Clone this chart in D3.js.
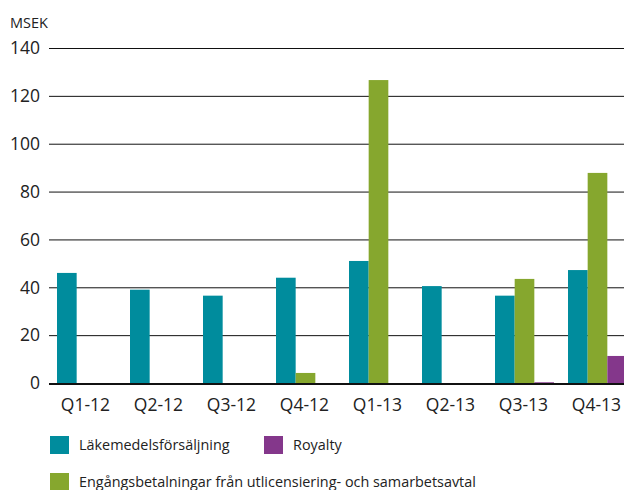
<!DOCTYPE html>
<html>
<head>
<meta charset="utf-8">
<script src="https://cdn.jsdelivr.net/npm/d3@7"></script>
<style>
	body { margin: 0; background: #fff; }
	text { font-family: "Open Sans", "Noto Sans", sans-serif; fill: #222; }
</style>
</head>
<body>
<svg id="chart" width="624" height="490"></svg>
<script>
var quarters = ["Q1-12", "Q2-12", "Q3-12", "Q4-12", "Q1-13", "Q2-13", "Q3-13", "Q4-13"];
var lakemedel = [46, 39, 36.5, 44, 51, 40.5, 36.5, 47.2];
var engangs = [0, 0, 0, 4.2, 126.6, 0, 43.5, 87.8];
var royalty = [0, 0, 0, 0, 0, 0, 0.3, 11.3];
var yTicks = [0, 20, 40, 60, 80, 100, 120, 140];

var seriesNames = ["Läkemedelsförsäljning", "Engångsbetalningar från utlicensiering- och samarbetsavtal", "Royalty"];
var colors = ["#008c9d", "#86a72e", "#84378b"];

var svg = d3.select("#chart");

var x = d3.scaleBand()
	.domain(quarters)
	.range([49, 633]);

// three bars per quarter, leaving a gap between groups
var xSub = d3.scaleBand()
	.domain([0, 1, 2])
	.range([8, 8 + 59]);

var y = d3.scaleLinear()
	.domain([0, 140])
	.range([383, 48]);

// gridlines
svg.append("g")
	.selectAll("line")
	.data(yTicks.filter(function(d) { return d > 0 }))
	.enter()
	.append("line")
	.attr("x1", 49)
	.attr("x2", 624)
	.attr("y1", function(d) { return y(d) + 0.5 })
	.attr("y2", function(d) { return y(d) + 0.5 })
	.attr("stroke", "#111")
	.attr("stroke-width", 1);

// y labels
svg.append("g")
	.selectAll("text")
	.data(yTicks)
	.enter()
	.append("text")
	.attr("x", 40)
	.attr("y", function(d) { return y(d) })
	.attr("dy", "0.36em")
	.attr("text-anchor", "end")
	.style("font-size", "17.5px")
	.text(function(d) { return d });

svg.append("text")
	.attr("x", 10)
	.attr("y", 28)
	.style("font-size", "14.5px")
	.text("MSEK");

// bars
var rows = quarters.map(function(q, i) {
	return { key: q, values: [lakemedel[i], engangs[i], royalty[i]] };
});

var groups = svg.append("g")
	.selectAll("g")
	.data(rows)
	.enter()
	.append("g")
	.attr("transform", function(d) { return "translate(" + x(d.key) + ",0)" });

groups.selectAll("rect")
	.data(function(d) { return d.values })
	.enter()
	.append("rect")
	.attr("x", function(d, i) { return xSub(i) })
	.attr("width", xSub.bandwidth())
	.attr("y", function(d) { return y(d) })
	.attr("height", function(d) { return y(0) - y(d) })
	.attr("fill", function(d, i) { return colors[i] });

// baseline
svg.append("line")
	.attr("x1", 49)
	.attr("x2", 624)
	.attr("y1", y(0) + 1)
	.attr("y2", y(0) + 1)
	.attr("stroke", "#111")
	.attr("stroke-width", 2);

// x labels
svg.append("g")
	.selectAll("text")
	.data(quarters)
	.enter()
	.append("text")
	.attr("x", function(d) { return x(d) + x.bandwidth() / 2 })
	.attr("y", 411)
	.attr("text-anchor", "middle")
	.style("font-size", "17.5px")
	.text(function(d) { return d });

// legend
var legendItems = [
	{ name: seriesNames[0], color: colors[0], x: 50, y: 436 },
	{ name: seriesNames[2], color: colors[2], x: 264, y: 436 },
	{ name: seriesNames[1], color: colors[1], x: 50, y: 473 }
];

var legend = svg.append("g")
	.selectAll("g")
	.data(legendItems)
	.enter()
	.append("g")
	.attr("transform", function(d) { return "translate(" + d.x + "," + d.y + ")" });

legend.append("rect")
	.attr("width", 19)
	.attr("height", 18)
	.attr("fill", function(d) { return d.color });

legend.append("text")
	.attr("x", 29)
	.attr("y", 9)
	.attr("dy", "0.36em")
	.style("font-size", "14.4px")
	.text(function(d) { return d.name });
</script>
</body>
</html>
